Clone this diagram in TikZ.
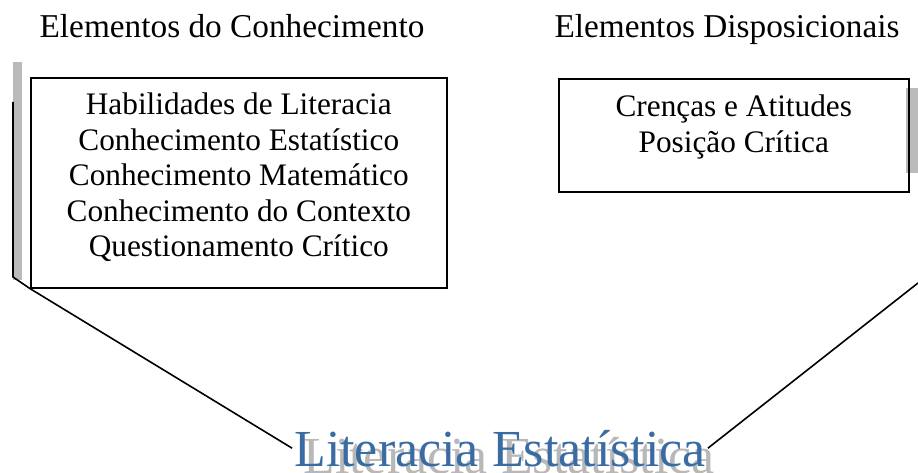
\documentclass[tikz,border=0pt]{standalone}
\usepackage{fontspec}
\setmainfont{Liberation Serif}
\usetikzlibrary{positioning}

\begin{document}
\begin{tikzpicture}[x=1pt, y=-1pt,
    header/.style={font=\fontsize{33.3}{36}\selectfont, inner sep=0pt, anchor=base},
    elembox/.style={draw, line width=1.6pt, anchor=north west, inner sep=0pt},
    elemtext/.style={align=center, inner sep=0pt, font=\fontsize{31.3}{35.5}\selectfont},
    titletext/.style={inner sep=2pt, anchor=base, font=\fontsize{52}{56}\selectfont},
    shade/.style={fill=black!27}]
    \useasboundingbox (0,0) rectangle (918,473);

    % Headers
    \node[header] (hknow) at (232,38) {Elementos do Conhecimento};
    \node[header] (hdisp) at (727,38) {Elementos Disposicionais};

    % Shadows behind the boxes
    \fill[shade] (13,62) rectangle (22,280);
    \fill[shade] (906,88) rectangle (918,173);

    % Boxes
    \node[elembox, minimum width=416pt, minimum height=210pt] (know) at (30,77) {};
    \node[elemtext, below=16pt of know.north] (knowlist) {Habilidades de Literacia\\
        Conhecimento Estatístico\\ Conhecimento Matemático\\
        Conhecimento do Contexto\\ Questionamento Crítico};
    \node[elembox, minimum width=350pt, minimum height=113pt] (disp) at (558,78) {};
    \node[elemtext, below=17pt of disp.north] (displist) {Crenças e Atitudes\\ Posição Crítica};

    % Title
    \node[titletext, text=black!28] (shadow) at (509,473) {Literacia Estatística};
    \node[titletext, text={rgb,255:red,58;green,108;blue,164}] (title) at (500,466) {Literacia Estatística};

    % Lines
    \coordinate (ltop) at (13,102);
    \coordinate (lbend) at (13,277);
    \coordinate (rtop) at (918,283);
    \draw[line width=1.6pt] (ltop) -- (lbend) -- (know.south west) -- (title.west);
    \draw[line width=1.6pt] (title.east) -- (rtop);
\end{tikzpicture}
\end{document}
